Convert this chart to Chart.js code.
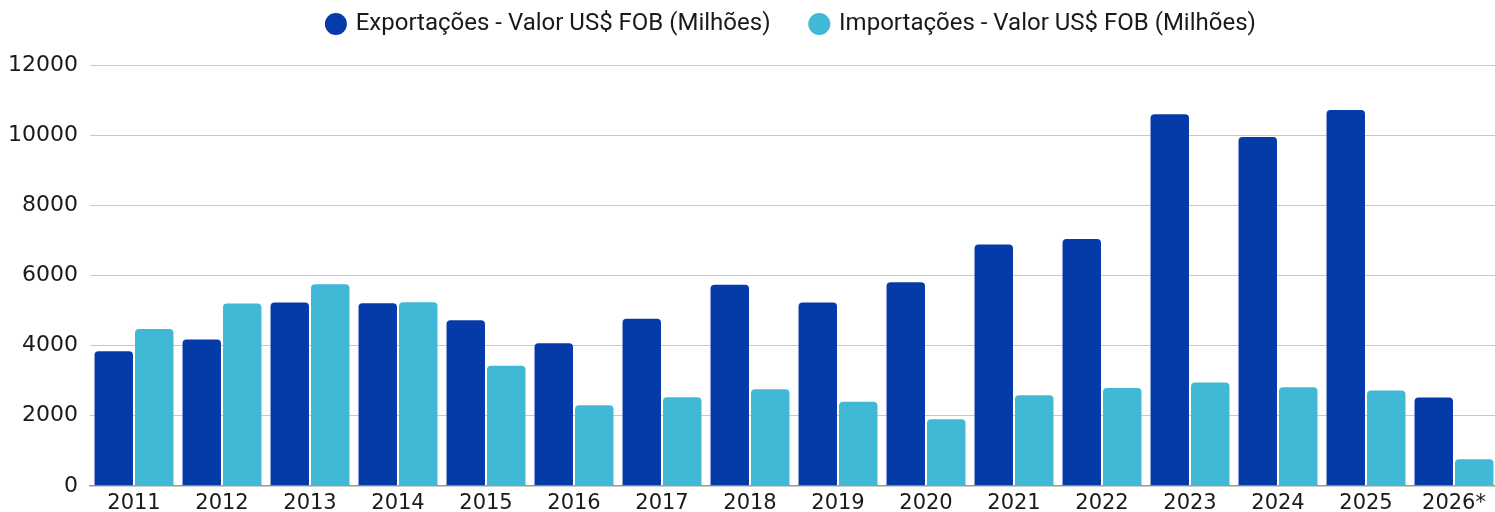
<!DOCTYPE html>
<html>
<head>
<meta charset="utf-8">
<script src="https://cdn.jsdelivr.net/npm/chart.js@4.4.1/dist/chart.umd.min.js"></script>
<style>
  html, body { margin: 0; padding: 0; background: #ffffff; overflow: hidden; }
  #wrap { position: relative; width: 1510px; height: 521px; }
</style>
</head>
<body>
<div id="wrap"><canvas id="c" width="1510" height="521"></canvas></div>
<script>
const categories = ['2011','2012','2013','2014','2015','2016','2017','2018','2019','2020','2021','2022','2023','2024','2025','2026*'];
const exportacoes = [3845, 4177, 5234, 5214, 4729, 4070, 4770, 5740, 5230, 5814, 6886, 7043, 10606, 9957, 10729, 2520];
const importacoes = [4480, 5206, 5757, 5243, 3430, 2300, 2530, 2757, 2400, 1900, 2586, 2795, 2949, 2814, 2720, 757];
const seriesLabels = ['Exportações - Valor US$ FOB (Milhões)', 'Importações - Valor US$ FOB (Milhões)'];
const yTicks = [0, 2000, 4000, 6000, 8000, 10000, 12000];

const shiftLegend = {
  id: 'shiftLegend',
  afterLayout(chart) {
    const lg = chart.legend;
    if (!lg) return;
    const dx = 43, dy = -29;
    lg.left += dx; lg.right += dx; lg.top += dy;
  }
};

new Chart(document.getElementById('c'), {
  type: 'bar',
  data: {
    labels: categories,
    datasets: [
      { label: seriesLabels[0], data: exportacoes, backgroundColor: '#043ba8', borderRadius: 4, borderSkipped: 'bottom',
        categoryPercentage: 0.92, barPercentage: 0.95 },
      { label: seriesLabels[1], data: importacoes, backgroundColor: '#42b8d7', borderRadius: 4, borderSkipped: 'bottom',
        categoryPercentage: 0.92, barPercentage: 0.95 }
    ]
  },
  options: {
    responsive: false,
    animation: false,
    layout: { padding: { left: 0, right: 12, top: 0, bottom: 0 } },
    plugins: {
      legend: {
        display: true,
        position: 'top',
        maxHeight: 65.5,
        labels: {
          usePointStyle: true,
          pointStyle: 'circle',
          boxWidth: 15.6,
          boxHeight: 15.6,
          padding: 41,
          color: '#1a1a1a',
          font: { family: 'Roboto', size: 24 }
        }
      },
      tooltip: { enabled: false }
    },
    scales: {
      x: {
        grid: { display: false, drawTicks: false },
        border: { display: true, color: '#9a9a9a', width: 1.5 },
        ticks: { color: '#1a1a1a', padding: 5, font: { family: 'DejaVu Sans', size: 21 }, maxRotation: 0, autoSkip: false }
      },
      y: {
        min: 0,
        max: 12000,
        afterFit(scale) { scale.width = 90; },
        afterBuildTicks(scale) { scale.ticks = yTicks.map(v => ({ value: v })); },
        grid: { color: '#c8c8c8', lineWidth: 1, drawTicks: false },
        border: { display: false },
        ticks: { color: '#1a1a1a', padding: 12, font: { family: 'DejaVu Sans', size: 22 },
          callback: (v) => String(v) }
      }
    }
  },
  plugins: [shiftLegend]
});
</script>
</body>
</html>
